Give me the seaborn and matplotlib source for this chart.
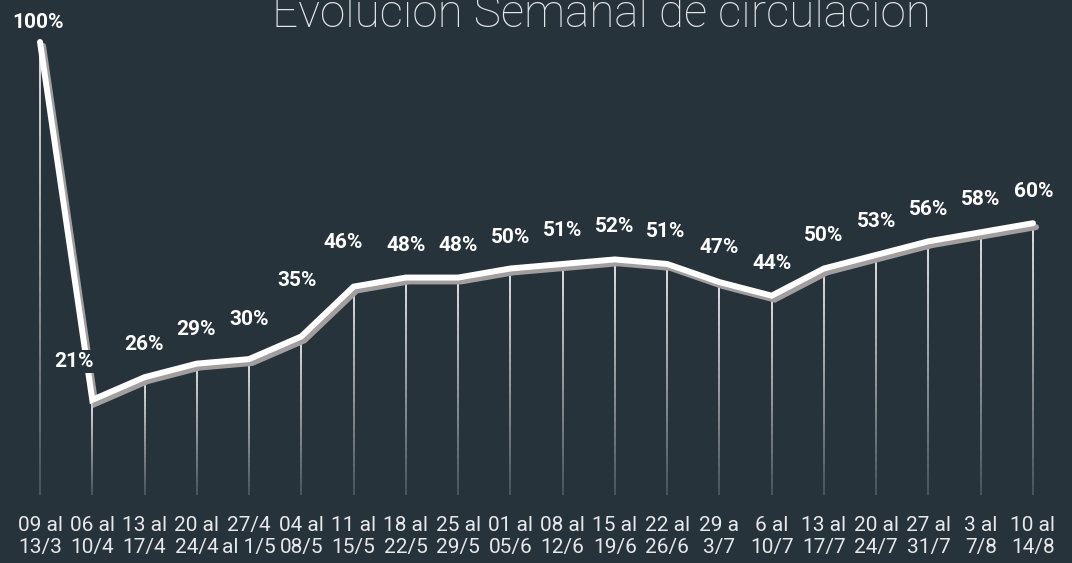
import numpy as np
import matplotlib
matplotlib.use("Agg")
import matplotlib.pyplot as plt
import matplotlib.patheffects as pe
from matplotlib.collections import LineCollection
import seaborn as sns

# =====================================================
# Data
# =====================================================

weeks = [
    "09 al\n13/3", "06 al\n10/4", "13 al\n17/4", "20 al\n24/4", "27/4\nal 1/5",
    "04 al\n08/5", "11 al\n15/5", "18 al\n22/5", "25 al\n29/5", "01 al\n05/6",
    "08 al\n12/6", "15 al\n19/6", "22 al\n26/6", "29 a\n3/7", "6 al\n10/7",
    "13 al\n17/7", "20 al\n24/7", "27 al\n31/7", "3 al\n7/8", "10 al\n14/8",
]
circulation = [100, 21, 26, 29, 30, 35, 46, 48, 48, 50,
               51, 52, 51, 47, 44, 50, 53, 56, 58, 60]

# label offsets in pixels (dx, dy) relative to each point
label_offsets = [(-2, 20), (-18, 38), (-1, 33), (-1, 34), (0, 40),
                 (-4, 56), (-10, 44), (0, 32), (0, 32), (0, 31),
                 (0, 33), (0, 33), (-2, 32), (0, 35), (0, 32),
                 (0, 33), (0, 33), (0, 32), (0, 33), (1, 32)]

BG = "#27333b"

# =====================================================
# Figure
# =====================================================

sns.set_theme(style="dark", rc={"axes.facecolor": BG, "figure.facecolor": BG})
plt.rcParams["font.family"] = ["Roboto", "DejaVu Sans"]

fig = plt.figure(figsize=(10.72, 5.63), dpi=100)
H, W = 563, 1072
px_x = 52.263
px_y = 4.53
ax = fig.add_axes([0, 68 / H, 1, 1 - 68 / H])
ax.set_xlim(-40 / px_x, (W - 40) / px_x)
ax.set_ylim(0, 495 / px_y)

x = np.arange(len(circulation))

# vertical drop lines with fading
for xi, v in zip(x, circulation):
    ys = np.linspace(v, 0, 30)
    segs = [[(xi, ys[i]), (xi, ys[i + 1])] for i in range(len(ys) - 1)]
    alphas = np.linspace(1.0, 0.2, len(segs))
    cols = [(1, 1, 1, a) for a in alphas]
    ax.add_collection(LineCollection(segs, colors=cols, linewidths=1.2, zorder=1))

sns.lineplot(x=x, y=circulation, ax=ax, color="white", linewidth=4.3,
             zorder=3, solid_joinstyle="miter")
ax.lines[-1].set_path_effects([
    pe.SimpleLineShadow(offset=(2.2, -2.8), shadow_color="#a39e9e", alpha=1.0),
    pe.Normal(),
])

for xi, v, (dx, dy) in zip(x, circulation, label_offsets):
    ax.annotate(f"{v}%", (xi, v), xytext=(dx * 0.72, dy * 0.72),
                textcoords="offset points", ha="center", va="center",
                color="white", fontsize=15, fontweight="bold", zorder=5,
                bbox=dict(boxstyle="square,pad=0.1", fc=BG, ec="none"))

ax.set_xticks(x)
ax.set_xticklabels(weeks, color="#e6e8ea", fontsize=15, linespacing=1.2)
ax.tick_params(axis="x", length=0, pad=15)
ax.set_yticks([])
ax.set_xlabel("")
ax.set_ylabel("")
for s in ax.spines.values():
    s.set_visible(False)
ax.grid(False)

fig.text(601 / W, 1 - 27 / H, "Evolucion Semanal de circulacion",
         ha="center", va="baseline", color="#e4e6e8", fontsize=33,
         fontweight="light")

fig.savefig("out.png", dpi=100, facecolor=BG)
